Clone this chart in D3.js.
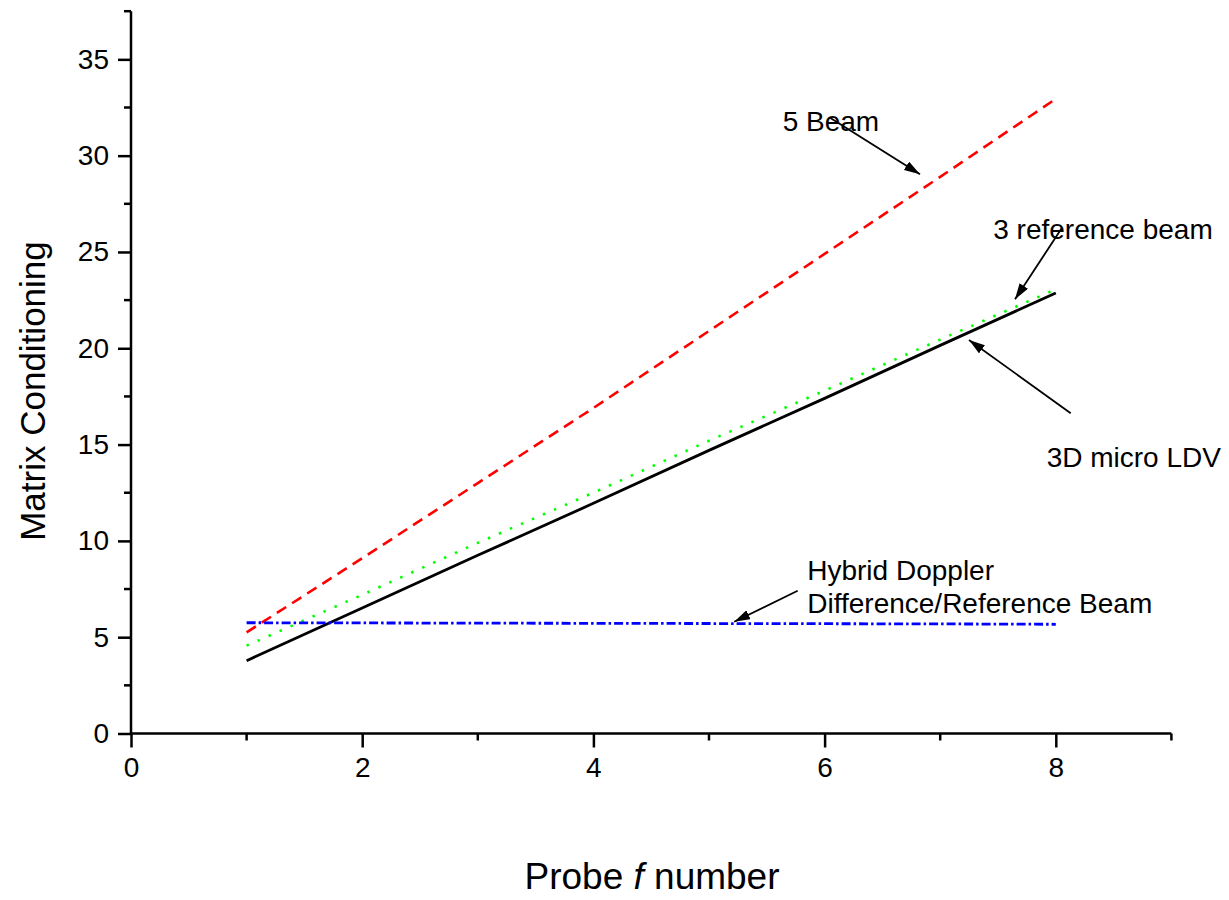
<!DOCTYPE html>
<html>
<head>
<meta charset="utf-8">
<script src="https://cdn.jsdelivr.net/npm/d3@7"></script>
<style>
  html, body { margin: 0; padding: 0; background: #fff; }
  svg { display: block; font-family: "Liberation Sans", Arial, sans-serif; }
</style>
</head>
<body>
<svg id="chart" width="1229" height="900"></svg>
<script>
// ---- Data ----
const fNumbers = [1, 2, 3, 4, 5, 6, 7, 8];
const fiveBeam = [5.25, 9.1, 13.0, 16.9, 20.9, 24.9, 28.9, 32.95];
const threeReference = [4.56, 7.2, 9.9, 12.5, 15.2, 17.8, 20.45, 23.06];
const microLDV3D = [3.78, 6.52, 9.25, 11.95, 14.7, 17.4, 20.15, 22.87];
const hybridDoppler = [5.75, 5.74, 5.73, 5.72, 5.71, 5.70, 5.69, 5.67];

const xTicks = [0, 2, 4, 6, 8];
const xMinorTicks = [1, 3, 5, 7, 9];
const yTicks = [0, 5, 10, 15, 20, 25, 30, 35];
const yMinorTicks = [2.5, 7.5, 12.5, 17.5, 22.5, 27.5, 32.5, 37.5];

const xTitle = ["Probe ", "f", " number"];
const yTitle = "Matrix Conditioning";

// annotations: label lines, text anchor (data units), arrow from -> to (data units)
const annotations = [
  { lines: ["5 Beam"], tx: 5.637, ty: 31.3, from: [6.047, 31.97], to: [6.825, 29.03] },
  { lines: ["3 reference beam"], tx: 7.459, ty: 25.66, from: [8.051, 26.23], to: [7.647, 22.54] },
  { lines: ["3D micro LDV"], tx: 7.921, ty: 13.85, from: [8.129, 16.63], to: [7.249, 20.43] },
  { lines: ["Hybrid Doppler", "Difference/Reference Beam"], tx: 5.85, ty: 7.97, from: [5.767, 7.41], to: [5.218, 5.80] }
];

// ---- Layout ----
const svg = d3.select("#chart");
const x = d3.scaleLinear().domain([0, 9]).range([131, 1171.4]);
const y = d3.scaleLinear().domain([0, 37.5]).range([733.5, 11.2]);

// ---- Axes ----
const xAxis = svg.append("g").attr("transform", `translate(0,${y(0)})`)
  .call(d3.axisBottom(x).tickValues(xTicks).tickSize(14).tickPadding(10).tickFormat(d3.format("d")));
xAxis.append("g").selectAll("line").data(xMinorTicks).join("line")
  .attr("x1", d => x(d)).attr("x2", d => x(d)).attr("y1", 0).attr("y2", 7);

const yAxis = svg.append("g").attr("transform", `translate(${x(0)},0)`)
  .call(d3.axisLeft(y).tickValues(yTicks).tickSize(13).tickPadding(9).tickFormat(d3.format("d")));
yAxis.append("g").selectAll("line").data(yMinorTicks).join("line")
  .attr("y1", d => y(d)).attr("y2", d => y(d)).attr("x1", 0).attr("x2", -7);

[xAxis, yAxis].forEach(a => {
  a.select(".domain").attr("stroke", "#000").attr("stroke-width", 2.5);
  a.selectAll("line").attr("stroke", "#000").attr("stroke-width", 2.5);
  a.selectAll("text").attr("fill", "#000").style("font-size", "28px")
    .style("font-family", "'Liberation Sans', Arial, sans-serif");
});
xAxis.select(".domain").attr("d", `M${x(0)},0H${x(9)}`);
yAxis.select(".domain").attr("d", `M0,${y(0)}V${y(37.5)}`);

// ---- Series ----
const line = d3.line().x(d => x(d[0])).y(d => y(d[1]));
const series = [
  { values: fiveBeam, color: "#ff0000", width: 2.6, dash: "11,7" },
  { values: threeReference, color: "#00ff00", width: 2.6, dash: "2.5,9.5" },
  { values: microLDV3D, color: "#000000", width: 2.8, dash: null },
  { values: hybridDoppler, color: "#0000ff", width: 2.8, dash: "9,3,2.5,3" }
];
series.forEach(s => {
  svg.append("path")
    .datum(fNumbers.map((f, i) => [f, s.values[i]]))
    .attr("fill", "none")
    .attr("stroke", s.color)
    .attr("stroke-width", s.width)
    .attr("stroke-dasharray", s.dash)
    .attr("d", line);
});

// ---- Annotations ----
svg.append("defs").append("marker")
  .attr("id", "arrow").attr("viewBox", "0 0 16 10")
  .attr("refX", 16).attr("refY", 5)
  .attr("markerWidth", 16).attr("markerHeight", 10)
  .attr("markerUnits", "userSpaceOnUse")
  .attr("orient", "auto")
  .append("path").attr("d", "M0,0L16,5L0,10Z").attr("fill", "#000");

annotations.forEach(a => {
  const t = svg.append("text")
    .attr("x", x(a.tx)).attr("y", y(a.ty))
    .style("font-size", "28px").attr("fill", "#000");
  a.lines.forEach((l, i) => {
    t.append("tspan").attr("x", x(a.tx)).attr("dy", i === 0 ? 0 : 33).text(l);
  });
  svg.append("line")
    .attr("x1", x(a.from[0])).attr("y1", y(a.from[1]))
    .attr("x2", x(a.to[0])).attr("y2", y(a.to[1]))
    .attr("stroke", "#000").attr("stroke-width", 1.8)
    .attr("marker-end", "url(#arrow)");
});

// ---- Titles ----
const xt = svg.append("text")
  .attr("x", 652).attr("y", 889)
  .attr("text-anchor", "middle")
  .style("font-size", "37px").attr("fill", "#000");
xt.append("tspan").text(xTitle[0]);
xt.append("tspan").style("font-style", "italic").text(xTitle[1]);
xt.append("tspan").text(xTitle[2]);

svg.append("text")
  .attr("transform", "translate(45,391) rotate(-90)")
  .attr("text-anchor", "middle")
  .style("font-size", "35px").attr("fill", "#000")
  .text(yTitle);
</script>
</body>
</html>
